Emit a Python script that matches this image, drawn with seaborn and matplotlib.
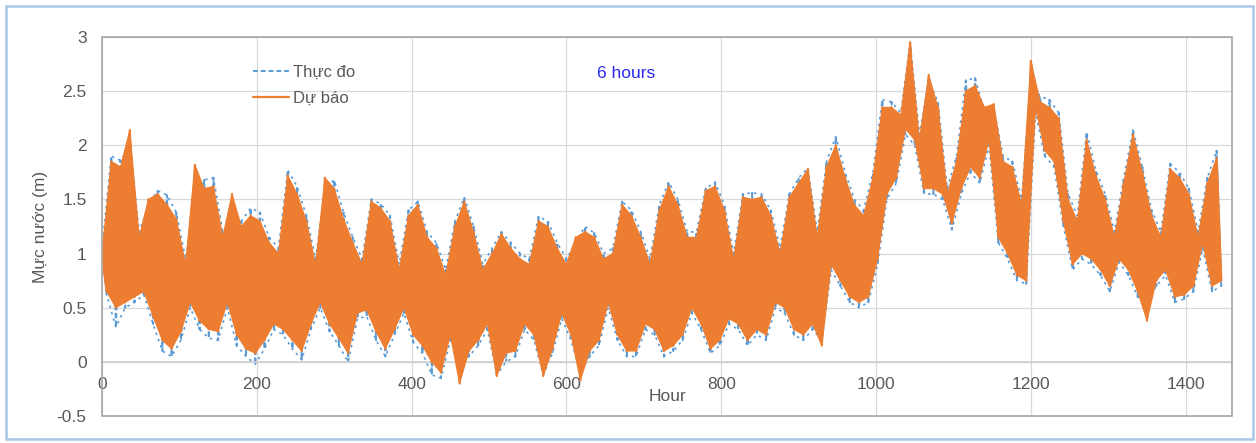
import numpy as np
import pandas as pd
import matplotlib
matplotlib.use("Agg")
import matplotlib.pyplot as plt
from matplotlib.patches import Rectangle
import seaborn as sns

# Hours of high / low water readings (every 12 h, lows offset by 6 h)
high_hours = np.arange(0, 1441, 12)
low_hours = np.arange(6, 1447, 12)

obs_high = [
    1.05, 1.9, 1.86, 2.0, 1.2, 1.45, 1.58, 1.54, 1.38, 0.95,
    1.5, 1.68, 1.7, 1.2, 1.3, 1.3, 1.42, 1.38, 1.15, 1.05,
    1.77, 1.62, 1.35, 0.95, 1.6, 1.68, 1.38, 1.15, 0.95, 1.5,
    1.46, 1.35, 0.9, 1.4, 1.48, 1.2, 1.1, 0.85, 1.3, 1.52,
    1.25, 0.9, 1.05, 1.2, 1.1, 1.0, 0.95, 1.34, 1.3, 1.1,
    0.95, 1.1, 1.25, 1.19, 1.0, 1.05, 1.48, 1.4, 1.2, 0.95,
    1.45, 1.66, 1.5, 1.2, 1.2, 1.6, 1.66, 1.45, 1.0, 1.55,
    1.56, 1.55, 1.4, 1.05, 1.55, 1.7, 1.79, 1.2, 1.85, 2.08,
    1.75, 1.5, 1.4, 1.75, 2.42, 2.4, 2.3, 2.95, 2.1, 2.6,
    2.4, 1.6, 1.9, 2.6, 2.62, 2.3, 2.35, 1.9, 1.85, 1.5,
    2.6, 2.45, 2.42, 2.3, 1.55, 1.35, 2.12, 1.77, 1.55, 1.2,
    1.7, 2.14, 1.8, 1.4, 1.2, 1.83, 1.75, 1.6, 1.2, 1.7,
    1.95,
]
obs_low = [
    0.62, 0.32, 0.5, 0.55, 0.62, 0.35, 0.1, 0.05, 0.2, 0.5,
    0.3, 0.22, 0.2, 0.5, 0.15, 0.05, -0.02, 0.12, 0.3, 0.25,
    0.12, 0.02, 0.3, 0.5, 0.28, 0.15, 0.0, 0.4, 0.42, 0.2,
    0.05, 0.25, 0.45, 0.18, 0.08, -0.12, -0.15, 0.2, 0.0, 0.05,
    0.15, 0.3, -0.12, 0.0, 0.05, 0.3, 0.2, -0.12, 0.08, 0.4,
    0.2, -0.1, 0.05, 0.15, 0.5, 0.2, 0.05, 0.05, 0.3, 0.25,
    0.05, 0.1, 0.2, 0.45, 0.3, 0.08, 0.15, 0.35, 0.3, 0.15,
    0.25, 0.2, 0.5, 0.45, 0.25, 0.2, 0.3, 0.2, 0.85, 0.7,
    0.55, 0.5, 0.55, 0.9, 1.5, 1.65, 2.1, 2.0, 1.55, 1.55,
    1.5, 1.22, 1.55, 1.75, 1.65, 2.0, 1.1, 0.95, 0.75, 0.72,
    2.3, 1.9, 1.8, 1.25, 0.85, 0.95, 0.9, 0.8, 0.65, 0.92,
    0.8, 0.6, 0.55, 0.7, 0.8, 0.55, 0.58, 0.65, 1.05, 0.65,
    0.7,
]

# Forecast (Dự báo) high and low values
fc_high = [
    1.0, 1.85, 1.8, 2.14, 1.15, 1.5, 1.55, 1.45, 1.32, 0.9,
    1.82, 1.6, 1.62, 1.15, 1.55, 1.25, 1.35, 1.3, 1.1, 1.0,
    1.72, 1.55, 1.3, 0.9, 1.7, 1.6, 1.32, 1.1, 0.9, 1.48,
    1.42, 1.3, 0.85, 1.35, 1.45, 1.15, 1.05, 0.8, 1.25, 1.48,
    1.2, 0.85, 1.0, 1.18, 1.05, 0.95, 0.9, 1.3, 1.25, 1.05,
    0.9, 1.15, 1.2, 1.15, 0.95, 1.0, 1.45, 1.35, 1.15, 0.9,
    1.4, 1.62, 1.45, 1.15, 1.15, 1.58, 1.62, 1.4, 0.95, 1.52,
    1.5, 1.52, 1.35, 1.0, 1.52, 1.65, 1.78, 1.15, 1.8, 2.0,
    1.7, 1.45, 1.35, 1.7, 2.35, 2.35, 2.28, 2.95, 2.05, 2.65,
    2.35, 1.55, 1.85, 2.5, 2.55, 2.35, 2.38, 1.85, 1.8, 1.45,
    2.78, 2.4, 2.35, 2.25, 1.5, 1.3, 2.05, 1.72, 1.5, 1.15,
    1.65, 2.1, 1.75, 1.35, 1.15, 1.78, 1.7, 1.55, 1.15, 1.65,
    1.88,
]
fc_low = [
    0.65, 0.5, 0.55, 0.6, 0.65, 0.42, 0.2, 0.12, 0.28, 0.55,
    0.38, 0.3, 0.28, 0.55, 0.25, 0.12, 0.08, 0.2, 0.35, 0.3,
    0.2, 0.1, 0.35, 0.55, 0.35, 0.22, 0.08, 0.45, 0.48, 0.28,
    0.12, 0.3, 0.5, 0.25, 0.15, 0.0, -0.1, 0.25, -0.2, 0.1,
    0.2, 0.35, -0.13, 0.08, 0.1, 0.35, 0.25, -0.13, 0.12, 0.45,
    0.25, -0.17, 0.1, 0.2, 0.55, 0.25, 0.1, 0.1, 0.35, 0.3,
    0.1, 0.15, 0.25, 0.5, 0.35, 0.12, 0.2, 0.4, 0.35, 0.2,
    0.3, 0.25, 0.55, 0.5, 0.3, 0.25, 0.35, 0.15, 0.9, 0.75,
    0.6, 0.55, 0.6, 0.95, 1.55, 1.7, 2.15, 2.05, 1.6, 1.6,
    1.55, 1.28, 1.6, 1.8, 1.7, 2.05, 1.15, 1.0, 0.8, 0.75,
    2.35, 1.95, 1.85, 1.3, 0.9, 1.0, 0.95, 0.85, 0.7, 0.95,
    0.85, 0.65, 0.38, 0.75, 0.85, 0.6, 0.62, 0.7, 1.1, 0.7,
    0.75,
]

x_ticks = [0, 200, 400, 600, 800, 1000, 1200, 1400]
y_ticks = [-0.5, 0, 0.5, 1, 1.5, 2, 2.5, 3]


def interleave(hi, lo):
    out = np.empty(len(hi) + len(lo))
    out[0::2] = hi
    out[1::2] = lo
    return out


df = pd.DataFrame({
    "hour": interleave(high_hours, low_hours),
    "obs": interleave(obs_high, obs_low),
    "fc": interleave(fc_high, fc_low),
})

BLUE = "#5B9BD5"
ORANGE = "#ED7D31"
GREY_TXT = "#595959"

sns.set_theme(style="white")
plt.rcParams["font.family"] = ["Liberation Sans", "DejaVu Sans"]

fig = plt.figure(figsize=(12.56, 4.43), dpi=100)
ax = fig.add_axes([0.0812, 0.061, 0.8998, 0.8555])

# observed: dashed blue, with its high/low envelope outlined by dashes
sns.lineplot(data=df, x="hour", y="obs", ax=ax, color=BLUE, lw=1.4,
             linestyle=(0, (2.5, 1.5)), label="Thực đo", zorder=2)
ax.fill(np.r_[high_hours, low_hours[::-1]], np.r_[obs_high, obs_low[::-1]],
        facecolor="none", edgecolor=BLUE, lw=1.2, ls=(0, (1.5, 2.5)), zorder=2)

# forecast: solid orange band drawn over the observations
ax.fill(np.r_[high_hours, low_hours[::-1]], np.r_[fc_high, fc_low[::-1]],
        color=ORANGE, lw=0.8, zorder=3)
sns.lineplot(data=df, x="hour", y="fc", ax=ax, color=ORANGE, lw=1.6,
             label="Dự báo", zorder=4)

ax.set_xlim(0, 1460)
ax.set_ylim(-0.5, 3)
ax.set_xticks(x_ticks)
ax.set_xticklabels([str(t) for t in x_ticks])
ax.set_yticks(y_ticks)
ax.set_yticklabels(["-0.5", "0", "0.5", "1", "1.5", "2", "2.5", "3"])
ax.grid(True, color="#d9d9d9", lw=0.9)
ax.set_axisbelow(True)

# Excel style: x axis crosses at 0, frame around the plot area
for side in ["top", "right", "left"]:
    ax.spines[side].set_visible(False)
ax.spines["bottom"].set_position(("data", 0))
ax.spines["bottom"].set_color("#d0d0d0")
ax.add_patch(Rectangle((0, 0), 1, 1, transform=ax.transAxes, fill=False,
                       edgecolor="#a6a6a6", lw=1.2, clip_on=False, zorder=5))

ax.tick_params(axis="both", length=0, labelsize=12.5, labelcolor=GREY_TXT)
ax.tick_params(axis="x", pad=11)
ax.tick_params(axis="y", pad=11)
ax.set_xlabel("Hour", fontsize=12.5, color=GREY_TXT, labelpad=-2)
ax.set_ylabel("Mực nước (m)", fontsize=12.5, color=GREY_TXT, labelpad=6)

ax.legend(loc="upper left", bbox_to_anchor=(0.12, 0.965), frameon=False,
          fontsize=12, handlelength=2.2, handletextpad=0.2, labelspacing=0.65,
          labelcolor=GREY_TXT)
ax.text(677, 2.66, "6 hours", color="#2a2af0", fontsize=12.5,
        ha="center", va="center")

# light blue chart-area border
fig.patches.append(Rectangle((0.005, 0.008), 0.993, 0.978,
                             transform=fig.transFigure, fill=False,
                             edgecolor="#a9c6e8", lw=1.8))

fig.savefig("out.png", dpi=100)
